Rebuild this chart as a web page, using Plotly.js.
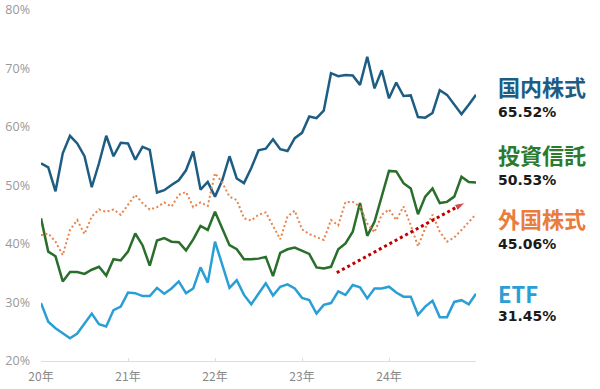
<!DOCTYPE html>
<html><head><meta charset="utf-8">
<script src="https://cdn.plot.ly/plotly-3.0.1.min.js"></script>
<style>html,body{margin:0;padding:0;background:#fff;}#chart{width:600px;height:389px;}</style>
</head><body><div id="chart"></div>
<script>
// monthly index, Jan 2020 (0) .. Jan 2025 (60)
const months = Array.from({length: 61}, (_, i) => i);
const tickPositions = [0, 12, 24, 36, 48, 60];
const tickLabels = ['20年', '21年', '22年', '23年', '24年', ''];
const yTickValues = [20, 30, 40, 50, 60, 70, 80];
const yTickLabels = ['20%', '30%', '40%', '50%', '60%', '70%', '80%'];

const domestic = [53.8,53.1,49.0,55.5,58.5,57.2,55.0,49.7,53.8,58.5,55.0,57.3,57.2,54.4,56.6,56.1,48.8,49.2,50.1,50.9,52.6,55.8,49.3,50.6,48.1,50.9,55.0,51.2,50.4,53.0,56.0,56.3,57.9,56.2,55.9,58.1,59.0,61.8,61.5,62.8,69.2,68.7,68.9,68.8,67.2,72.0,66.6,69.7,64.9,67.6,65.3,65.4,61.7,61.6,62.4,66.3,65.5,63.8,62.2,63.8,65.5];
const funds = [44.4,38.7,37.9,33.6,35.2,35.2,34.9,35.6,36.1,34.6,37.4,37.2,38.7,41.8,39.8,36.3,40.6,41.0,40.4,40.3,38.9,40.8,43.1,42.4,45.5,42.7,39.8,39.1,37.4,37.4,37.5,37.8,34.5,38.5,39.1,39.4,38.9,38.3,36.0,35.8,36.1,39.1,40.1,42.1,47.0,41.4,43.8,48.1,52.5,52.4,50.4,49.5,45.1,48.1,49.5,47.0,47.2,48.1,51.5,50.6,50.5];
const foreign = [41.5,41.8,40.4,38.1,42.4,44.1,41.7,44.7,45.9,45.5,45.9,45.0,46.7,48.4,47.0,45.9,46.3,47.1,46.4,48.4,48.9,46.3,47.1,46.5,52.1,50.5,48.1,47.5,44.4,44.0,45.0,45.4,43.1,40.8,44.7,45.7,42.5,41.7,41.2,40.7,44.1,43.2,47.2,47.2,46.4,43.5,42.0,45.0,45.9,44.1,46.4,43.2,39.6,42.7,45.0,42.1,40.4,41.1,42.4,43.8,45.1];
const etf = [29.9,26.7,25.6,24.7,23.9,24.7,26.4,28.1,26.3,25.9,28.7,29.3,31.7,31.6,31.1,31.1,32.5,31.5,32.4,33.6,31.6,32.4,36.0,33.4,40.4,36.4,32.5,33.8,31.3,29.7,31.5,33.3,31.2,32.7,33.1,32.4,30.8,30.4,28.1,29.6,29.9,31.9,31.3,33.0,32.6,30.7,32.4,32.4,32.7,31.7,31.0,31.0,27.9,29.3,30.3,27.5,27.5,30.1,30.4,29.7,31.5];

const seriesNames = ['国内株式', '投資信託', '外国株式', 'ETF'];
const lastValues = ['65.52%', '50.53%', '45.06%', '31.45%'];
const nameY = [67.0, 55.4, 44.4, 31.6];
const valueY = [62.6, 50.9, 40.0, 27.7];

const arrowX = [40.8, 58.5];
const arrowY = [35.1, 47.1];

const colors = ['#1d5d84', '#2c7a2e', '#e87d3e', '#2a9fd6'];
const lineColors = ['#1d5d84', '#2a6e2c', '#e8834a', '#2a9fd6'];

const traces = [
  {x: months, y: domestic, mode: 'lines', line: {color: lineColors[0], width: 2.5}},
  {x: months, y: funds, mode: 'lines', line: {color: lineColors[1], width: 2.5}},
  {x: months, y: foreign, mode: 'lines', line: {color: lineColors[2], width: 2, dash: '2px,2.5px'}},
  {x: months, y: etf, mode: 'lines', line: {color: lineColors[3], width: 2.5}},
  {x: arrowX, y: arrowY, mode: 'lines+markers', line: {color: '#c00000', width: 3, dash: 'dot'},
   marker: {symbol: ['circle', 'arrow'], size: [0, 11], angleref: 'previous', color: '#c00000'}}
];

const annotations = [];
for (let k = 0; k < 4; k++) {
  annotations.push({xref: 'paper', yref: 'y', x: 1.045, y: nameY[k], xanchor: 'left', yanchor: 'middle',
    text: '<b>' + seriesNames[k] + '</b>', showarrow: false,
    font: {family: 'Noto Sans CJK JP', size: 22, color: colors[k]}});
  annotations.push({xref: 'paper', yref: 'y', x: 1.045, y: valueY[k], xanchor: 'left', yanchor: 'middle',
    text: '<b>' + lastValues[k] + '</b>', showarrow: false,
    font: {family: 'DejaVu Sans', size: 14, color: '#1a1a1a'}});
}

const layout = {
  width: 600, height: 389,
  margin: {l: 41, r: 124, t: 10, b: 28},
  paper_bgcolor: '#fff', plot_bgcolor: '#fff',
  showlegend: false,
  xaxis: {range: [0, 60], tickmode: 'array', tickvals: tickPositions, ticktext: tickLabels,
    showgrid: false, zeroline: false, showline: true, linecolor: '#dddddd', linewidth: 1,
    ticks: 'inside', ticklen: 3, tickcolor: '#dddddd', ticklabelstandoff: 5,
    tickfont: {family: 'Noto Sans CJK JP', size: 12, color: '#888888'}},
  yaxis: {range: [20, 80], tickmode: 'array', tickvals: yTickValues, ticktext: yTickLabels,
    showgrid: false, zeroline: false, showline: false, ticks: '', ticklabelstandoff: 10,
    tickfont: {family: 'Open Sans', size: 12.5, color: '#999999'}},
  annotations: annotations
};

Plotly.newPlot('chart', traces, layout, {displayModeBar: false, staticPlot: true});
</script>
</body></html>
